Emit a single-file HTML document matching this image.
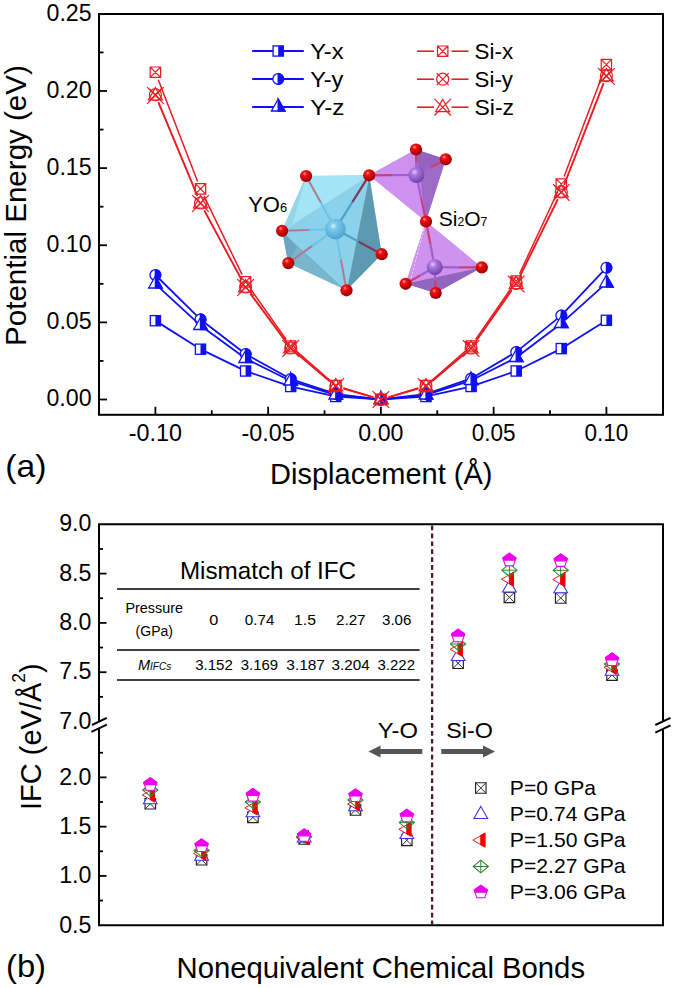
<!DOCTYPE html>
<html><head><meta charset="utf-8"><style>html,body{margin:0;padding:0;background:#fff;width:675px;height:988px;overflow:hidden}svg{display:block}text{font-family:"Liberation Sans",sans-serif}</style></head>
<body><svg width="675" height="988" viewBox="0 0 675 988"><defs><radialGradient id="gO" cx="0.38" cy="0.32" r="0.7"><stop offset="0" stop-color="#ff9a9a"/><stop offset="0.25" stop-color="#f01010"/><stop offset="0.8" stop-color="#b00000"/><stop offset="1" stop-color="#8a0000"/></radialGradient><radialGradient id="gY" cx="0.4" cy="0.35" r="0.7"><stop offset="0" stop-color="#d8f6ff"/><stop offset="0.22" stop-color="#7cccef"/><stop offset="1" stop-color="#4a9fcc"/></radialGradient><radialGradient id="gSi" cx="0.38" cy="0.32" r="0.7"><stop offset="0" stop-color="#e6c8ff"/><stop offset="0.3" stop-color="#a878e0"/><stop offset="1" stop-color="#7040a8"/></radialGradient></defs><rect width="675" height="988" fill="#fff"/><path d="M306.1,176.0L369.2,175.3L381.7,254.2L346.5,290.3L288.3,263.1L282.1,230.8Z" fill="#8bd1ec" fill-opacity="1" stroke="none" stroke-width="0" stroke-linejoin="round"/><path d="M306.1,176.0L369.2,175.3L282.1,230.8Z" fill="#a3e4f6" fill-opacity="1" stroke="none" stroke-width="0" stroke-linejoin="round"/><path d="M306.1,176.0L282.1,230.8L292.0,226.0Z" fill="#92d2e6" fill-opacity="0.8" stroke="none" stroke-width="0" stroke-linejoin="round"/><path d="M282.1,230.8L288.3,263.1L346.5,290.3Z" fill="#79b6ce" fill-opacity="1" stroke="none" stroke-width="0" stroke-linejoin="round"/><path d="M282.1,230.8L288.3,263.1L297.0,247.0Z" fill="#68a6bf" fill-opacity="0.9" stroke="none" stroke-width="0" stroke-linejoin="round"/><path d="M369.2,175.3L381.7,254.2L346.5,290.3Z" fill="#5d99b0" fill-opacity="1" stroke="none" stroke-width="0" stroke-linejoin="round"/><path d="M369.2,175.3L282.1,230.8M282.1,230.8L346.5,290.3M369.2,175.3L346.5,290.3" stroke="#b8ecfa" stroke-width="0.7" fill="none" opacity="0.6"/><line x1="335.4" y1="229" x2="320.8" y2="202.5" stroke="#6cc2ea" stroke-width="2.0"/><line x1="320.8" y1="202.5" x2="306.1" y2="176" stroke="#b07a8e" stroke-width="2.0"/><line x1="335.4" y1="229" x2="308.8" y2="229.9" stroke="#6cc2ea" stroke-width="2.0"/><line x1="308.8" y1="229.9" x2="282.1" y2="230.8" stroke="#b07a8e" stroke-width="2.0"/><line x1="335.4" y1="229" x2="311.9" y2="246.1" stroke="#6cc2ea" stroke-width="2.0"/><line x1="311.9" y1="246.1" x2="288.3" y2="263.1" stroke="#b07a8e" stroke-width="2.0"/><line x1="335.4" y1="229" x2="340.9" y2="259.6" stroke="#6cc2ea" stroke-width="2.0"/><line x1="340.9" y1="259.6" x2="346.5" y2="290.3" stroke="#b07a8e" stroke-width="2.0"/><line x1="335.4" y1="229" x2="352.3" y2="202.2" stroke="#4aa0c8" stroke-width="2.2"/><line x1="352.3" y1="202.2" x2="369.2" y2="175.3" stroke="#7c3a58" stroke-width="2.2"/><line x1="335.4" y1="229" x2="358.5" y2="241.6" stroke="#4aa0c8" stroke-width="2.2"/><line x1="358.5" y1="241.6" x2="381.7" y2="254.2" stroke="#7c3a58" stroke-width="2.2"/><circle cx="335.4" cy="229" r="10.3" fill="url(#gY)"/><path d="M369.2,175.3L416.0,149.5L445.7,159.3L426.0,221.5Z" fill="#b27fdc" fill-opacity="1" stroke="none" stroke-width="0" stroke-linejoin="round"/><path d="M369.2,175.3L416.0,149.5L426.0,221.5Z" fill="#d293f3" fill-opacity="0.9" stroke="none" stroke-width="0" stroke-linejoin="round"/><path d="M416.0,149.5L445.7,159.3L426.0,221.5Z" fill="#9a66c4" fill-opacity="0.85" stroke="none" stroke-width="0" stroke-linejoin="round"/><path d="M416.0,149.5L445.7,159.3L416.4,175.0Z" fill="#8a5cb4" fill-opacity="0.5" stroke="none" stroke-width="0" stroke-linejoin="round"/><path d="M426.0,221.5L481.8,267.4L435.7,293.0L405.6,283.8Z" fill="#b07cd8" fill-opacity="1" stroke="none" stroke-width="0" stroke-linejoin="round"/><path d="M426.0,221.5L481.8,267.4L405.6,283.8Z" fill="#d396f2" fill-opacity="0.9" stroke="none" stroke-width="0" stroke-linejoin="round"/><path d="M405.6,283.8L481.8,267.4L435.7,293.0Z" fill="#8e62ba" fill-opacity="0.85" stroke="none" stroke-width="0" stroke-linejoin="round"/><path d="M426,221.5L410.6,279.8" stroke="#f0d8ff" stroke-width="0.9" stroke-dasharray="2,2" fill="none"/><line x1="416.4" y1="175" x2="392.8" y2="175.2" stroke="#a060d0" stroke-width="2.2"/><line x1="392.8" y1="175.2" x2="369.2" y2="175.3" stroke="#c8407a" stroke-width="2.2"/><line x1="416.4" y1="175" x2="416.2" y2="162.2" stroke="#a060d0" stroke-width="2.2"/><line x1="416.2" y1="162.2" x2="416" y2="149.5" stroke="#c8407a" stroke-width="2.2"/><line x1="416.4" y1="175" x2="431.0" y2="167.2" stroke="#a060d0" stroke-width="2.2"/><line x1="431.0" y1="167.2" x2="445.7" y2="159.3" stroke="#c8407a" stroke-width="2.2"/><line x1="416.4" y1="175" x2="421.2" y2="198.2" stroke="#a060d0" stroke-width="2.2"/><line x1="421.2" y1="198.2" x2="426" y2="221.5" stroke="#c8407a" stroke-width="2.2"/><line x1="434.7" y1="267.2" x2="430.4" y2="244.3" stroke="#a060d0" stroke-width="2.2"/><line x1="430.4" y1="244.3" x2="426" y2="221.5" stroke="#c8407a" stroke-width="2.2"/><line x1="434.7" y1="267.2" x2="458.2" y2="267.3" stroke="#a060d0" stroke-width="2.2"/><line x1="458.2" y1="267.3" x2="481.8" y2="267.4" stroke="#c8407a" stroke-width="2.2"/><line x1="434.7" y1="267.2" x2="420.1" y2="275.5" stroke="#a060d0" stroke-width="2.2"/><line x1="420.1" y1="275.5" x2="405.6" y2="283.8" stroke="#c8407a" stroke-width="2.2"/><line x1="434.7" y1="267.2" x2="435.2" y2="280.1" stroke="#a060d0" stroke-width="2.2"/><line x1="435.2" y1="280.1" x2="435.7" y2="293" stroke="#c8407a" stroke-width="2.2"/><circle cx="416.4" cy="175" r="8" fill="url(#gSi)"/><circle cx="434.7" cy="267.2" r="8" fill="url(#gSi)"/><circle cx="306.1" cy="176" r="6.1" fill="url(#gO)"/><circle cx="369.2" cy="175.3" r="6.1" fill="url(#gO)"/><circle cx="282.1" cy="230.8" r="6.1" fill="url(#gO)"/><circle cx="288.3" cy="263.1" r="6.1" fill="url(#gO)"/><circle cx="381.7" cy="254.2" r="6.1" fill="url(#gO)"/><circle cx="346.5" cy="290.3" r="6.1" fill="url(#gO)"/><circle cx="416" cy="149.5" r="6.1" fill="url(#gO)"/><circle cx="445.7" cy="159.3" r="6.1" fill="url(#gO)"/><circle cx="426" cy="221.5" r="6.1" fill="url(#gO)"/><circle cx="481.8" cy="267.4" r="6.1" fill="url(#gO)"/><circle cx="405.6" cy="283.8" r="6.1" fill="url(#gO)"/><circle cx="435.7" cy="293" r="6.1" fill="url(#gO)"/><text x="248.2" y="211.6" font-size="22" font-family="Liberation Sans, sans-serif">YO<tspan font-size="12.8">6</tspan></text><text x="438.8" y="225.9" font-size="21" font-family="Liberation Sans, sans-serif">Si<tspan font-size="12.2">2</tspan>O<tspan font-size="12.2">7</tspan></text><rect x="99" y="14" width="564" height="400.8" fill="none" stroke="#000" stroke-width="2"/><line x1="99" y1="399.50" x2="107" y2="399.50" stroke="#000" stroke-width="1.8"/><text x="46.46" y="406.40" font-size="23.2" font-family="Liberation Sans, sans-serif">0.00</text><line x1="99" y1="360.94" x2="103.5" y2="360.94" stroke="#000" stroke-width="1.8"/><line x1="99" y1="322.38" x2="107" y2="322.38" stroke="#000" stroke-width="1.8"/><text x="46.53" y="329.27" font-size="23.2" font-family="Liberation Sans, sans-serif">0.05</text><line x1="99" y1="283.81" x2="103.5" y2="283.81" stroke="#000" stroke-width="1.8"/><line x1="99" y1="245.25" x2="107" y2="245.25" stroke="#000" stroke-width="1.8"/><text x="46.46" y="252.15" font-size="23.2" font-family="Liberation Sans, sans-serif">0.10</text><line x1="99" y1="206.69" x2="103.5" y2="206.69" stroke="#000" stroke-width="1.8"/><line x1="99" y1="168.12" x2="107" y2="168.12" stroke="#000" stroke-width="1.8"/><text x="46.53" y="175.02" font-size="23.2" font-family="Liberation Sans, sans-serif">0.15</text><line x1="99" y1="129.56" x2="103.5" y2="129.56" stroke="#000" stroke-width="1.8"/><line x1="99" y1="91.00" x2="107" y2="91.00" stroke="#000" stroke-width="1.8"/><text x="46.46" y="97.90" font-size="23.2" font-family="Liberation Sans, sans-serif">0.20</text><line x1="99" y1="52.44" x2="103.5" y2="52.44" stroke="#000" stroke-width="1.8"/><text x="46.53" y="20.77" font-size="23.2" font-family="Liberation Sans, sans-serif">0.25</text><line x1="155.40" y1="414.8" x2="155.40" y2="406.8" stroke="#000" stroke-width="1.8"/><text x="128.77" y="441.20" font-size="23.2" textLength="53.14" lengthAdjust="spacingAndGlyphs" font-family="Liberation Sans, sans-serif">-0.10</text><line x1="211.77" y1="414.8" x2="211.77" y2="410.3" stroke="#000" stroke-width="1.8"/><line x1="268.15" y1="414.8" x2="268.15" y2="406.8" stroke="#000" stroke-width="1.8"/><text x="241.52" y="441.20" font-size="23.2" textLength="53.22" lengthAdjust="spacingAndGlyphs" font-family="Liberation Sans, sans-serif">-0.05</text><line x1="324.52" y1="414.8" x2="324.52" y2="410.3" stroke="#000" stroke-width="1.8"/><line x1="380.90" y1="414.8" x2="380.90" y2="406.8" stroke="#000" stroke-width="1.8"/><text x="358.33" y="441.20" font-size="23.2" font-family="Liberation Sans, sans-serif">0.00</text><line x1="437.27" y1="414.8" x2="437.27" y2="410.3" stroke="#000" stroke-width="1.8"/><line x1="493.65" y1="414.8" x2="493.65" y2="406.8" stroke="#000" stroke-width="1.8"/><text x="471.72" y="441.20" font-size="23.2" textLength="43.94" lengthAdjust="spacingAndGlyphs" font-family="Liberation Sans, sans-serif">0.05</text><line x1="550.02" y1="414.8" x2="550.02" y2="410.3" stroke="#000" stroke-width="1.8"/><line x1="606.40" y1="414.8" x2="606.40" y2="406.8" stroke="#000" stroke-width="1.8"/><text x="584.47" y="441.20" font-size="23.2" textLength="43.86" lengthAdjust="spacingAndGlyphs" font-family="Liberation Sans, sans-serif">0.10</text><text x="270.02" y="484.30" font-size="29.5" textLength="222.48" lengthAdjust="spacingAndGlyphs" font-family="Liberation Sans, sans-serif">Displacement (Å)</text><g transform="translate(25.6,343.5) rotate(-90)"><text x="-2.42" y="0.00" font-size="30" textLength="280.75" lengthAdjust="spacingAndGlyphs" font-family="Liberation Sans, sans-serif">Potential Energy (eV)</text></g><text x="5.31" y="477.00" font-size="32" textLength="41.18" lengthAdjust="spacingAndGlyphs" font-family="Liberation Sans, sans-serif">(a)</text><path d="M159.63,323.37L196.27,346.53M205.00,351.38L241.10,368.82M250.33,372.63L285.97,384.87M295.58,387.58L330.92,395.42M340.79,396.83L375.91,399.17M385.89,399.17L421.01,396.83M430.88,395.42L466.22,387.58M475.83,384.87L511.47,372.63M520.68,368.78L556.82,350.82M565.54,345.94L602.16,322.96" fill="none" stroke="#1010f4" stroke-width="1.8"/><rect x="150.30" y="315.60" width="10.2" height="10.2" fill="#fff" stroke="#1010f4" stroke-width="1.3"/><rect x="155.40" y="315.60" width="5.1" height="10.2" fill="#1010f4"/><rect x="195.40" y="344.10" width="10.2" height="10.2" fill="#fff" stroke="#1010f4" stroke-width="1.3"/><rect x="200.50" y="344.10" width="5.1" height="10.2" fill="#1010f4"/><rect x="240.50" y="365.90" width="10.2" height="10.2" fill="#fff" stroke="#1010f4" stroke-width="1.3"/><rect x="245.60" y="365.90" width="5.1" height="10.2" fill="#1010f4"/><rect x="285.60" y="381.40" width="10.2" height="10.2" fill="#fff" stroke="#1010f4" stroke-width="1.3"/><rect x="290.70" y="381.40" width="5.1" height="10.2" fill="#1010f4"/><rect x="330.70" y="391.40" width="10.2" height="10.2" fill="#fff" stroke="#1010f4" stroke-width="1.3"/><rect x="335.80" y="391.40" width="5.1" height="10.2" fill="#1010f4"/><rect x="375.80" y="394.40" width="10.2" height="10.2" fill="#fff" stroke="#1010f4" stroke-width="1.3"/><rect x="380.90" y="394.40" width="5.1" height="10.2" fill="#1010f4"/><rect x="420.90" y="391.40" width="10.2" height="10.2" fill="#fff" stroke="#1010f4" stroke-width="1.3"/><rect x="426.00" y="391.40" width="5.1" height="10.2" fill="#1010f4"/><rect x="466.00" y="381.40" width="10.2" height="10.2" fill="#fff" stroke="#1010f4" stroke-width="1.3"/><rect x="471.10" y="381.40" width="5.1" height="10.2" fill="#1010f4"/><rect x="511.10" y="365.90" width="10.2" height="10.2" fill="#fff" stroke="#1010f4" stroke-width="1.3"/><rect x="516.20" y="365.90" width="5.1" height="10.2" fill="#1010f4"/><rect x="556.20" y="343.50" width="10.2" height="10.2" fill="#fff" stroke="#1010f4" stroke-width="1.3"/><rect x="561.30" y="343.50" width="5.1" height="10.2" fill="#1010f4"/><rect x="601.30" y="315.20" width="10.2" height="10.2" fill="#fff" stroke="#1010f4" stroke-width="1.3"/><rect x="606.40" y="315.20" width="5.1" height="10.2" fill="#1010f4"/><path d="M158.96,278.51L196.94,315.89M204.47,322.44L241.63,350.96M249.97,356.42L286.33,376.58M295.44,380.58L331.06,392.42M340.76,394.61L375.94,398.89M385.86,398.89L421.04,394.61M430.73,392.37L466.37,380.13M475.41,375.97L511.89,354.53M520.09,348.85L557.41,318.65M564.73,311.86L602.97,271.34" fill="none" stroke="#1010f4" stroke-width="1.8"/><circle cx="155.40" cy="275.00" r="5.4" fill="#fff" stroke="#1010f4" stroke-width="1.3"/><path d="M155.40,269.60A5.4,5.4 0 0 1 155.40,280.40Z" fill="#1010f4" stroke="#1010f4" stroke-width="1.3"/><circle cx="200.50" cy="319.40" r="5.4" fill="#fff" stroke="#1010f4" stroke-width="1.3"/><path d="M200.50,314.00A5.4,5.4 0 0 1 200.50,324.80Z" fill="#1010f4" stroke="#1010f4" stroke-width="1.3"/><circle cx="245.60" cy="354.00" r="5.4" fill="#fff" stroke="#1010f4" stroke-width="1.3"/><path d="M245.60,348.60A5.4,5.4 0 0 1 245.60,359.40Z" fill="#1010f4" stroke="#1010f4" stroke-width="1.3"/><circle cx="290.70" cy="379.00" r="5.4" fill="#fff" stroke="#1010f4" stroke-width="1.3"/><path d="M290.70,373.60A5.4,5.4 0 0 1 290.70,384.40Z" fill="#1010f4" stroke="#1010f4" stroke-width="1.3"/><circle cx="335.80" cy="394.00" r="5.4" fill="#fff" stroke="#1010f4" stroke-width="1.3"/><path d="M335.80,388.60A5.4,5.4 0 0 1 335.80,399.40Z" fill="#1010f4" stroke="#1010f4" stroke-width="1.3"/><circle cx="380.90" cy="399.50" r="5.4" fill="#fff" stroke="#1010f4" stroke-width="1.3"/><path d="M380.90,394.10A5.4,5.4 0 0 1 380.90,404.90Z" fill="#1010f4" stroke="#1010f4" stroke-width="1.3"/><circle cx="426.00" cy="394.00" r="5.4" fill="#fff" stroke="#1010f4" stroke-width="1.3"/><path d="M426.00,388.60A5.4,5.4 0 0 1 426.00,399.40Z" fill="#1010f4" stroke="#1010f4" stroke-width="1.3"/><circle cx="471.10" cy="378.50" r="5.4" fill="#fff" stroke="#1010f4" stroke-width="1.3"/><path d="M471.10,373.10A5.4,5.4 0 0 1 471.10,383.90Z" fill="#1010f4" stroke="#1010f4" stroke-width="1.3"/><circle cx="516.20" cy="352.00" r="5.4" fill="#fff" stroke="#1010f4" stroke-width="1.3"/><path d="M516.20,346.60A5.4,5.4 0 0 1 516.20,357.40Z" fill="#1010f4" stroke="#1010f4" stroke-width="1.3"/><circle cx="561.30" cy="315.50" r="5.4" fill="#fff" stroke="#1010f4" stroke-width="1.3"/><path d="M561.30,310.10A5.4,5.4 0 0 1 561.30,320.90Z" fill="#1010f4" stroke="#1010f4" stroke-width="1.3"/><circle cx="606.40" cy="267.70" r="5.4" fill="#fff" stroke="#1010f4" stroke-width="1.3"/><path d="M606.40,262.30A5.4,5.4 0 0 1 606.40,273.10Z" fill="#1010f4" stroke="#1010f4" stroke-width="1.3"/><path d="M159.08,287.39L196.82,322.11M204.54,328.45L241.56,355.55M250.07,360.73L286.23,378.77M295.48,382.48L331.02,393.52M340.78,395.50L375.92,399.00M385.88,399.00L421.02,395.50M430.76,393.47L466.34,382.03M475.55,378.23L511.75,359.77M520.19,354.49L557.31,326.51M565.02,320.16L602.68,286.34" fill="none" stroke="#1010f4" stroke-width="1.8"/><path d="M155.40,276.00L162.20,288.00L148.60,288.00Z" fill="#fff" stroke="#1010f4" stroke-width="1.3" stroke-linejoin="miter"/><path d="M155.40,276.00L162.20,288.00L155.40,288.00Z" fill="#1010f4" stroke="#1010f4" stroke-width="1.3"/><path d="M200.50,317.50L207.30,329.50L193.70,329.50Z" fill="#fff" stroke="#1010f4" stroke-width="1.3" stroke-linejoin="miter"/><path d="M200.50,317.50L207.30,329.50L200.50,329.50Z" fill="#1010f4" stroke="#1010f4" stroke-width="1.3"/><path d="M245.60,350.50L252.40,362.50L238.80,362.50Z" fill="#fff" stroke="#1010f4" stroke-width="1.3" stroke-linejoin="miter"/><path d="M245.60,350.50L252.40,362.50L245.60,362.50Z" fill="#1010f4" stroke="#1010f4" stroke-width="1.3"/><path d="M290.70,373.00L297.50,385.00L283.90,385.00Z" fill="#fff" stroke="#1010f4" stroke-width="1.3" stroke-linejoin="miter"/><path d="M290.70,373.00L297.50,385.00L290.70,385.00Z" fill="#1010f4" stroke="#1010f4" stroke-width="1.3"/><path d="M335.80,387.00L342.60,399.00L329.00,399.00Z" fill="#fff" stroke="#1010f4" stroke-width="1.3" stroke-linejoin="miter"/><path d="M335.80,387.00L342.60,399.00L335.80,399.00Z" fill="#1010f4" stroke="#1010f4" stroke-width="1.3"/><path d="M380.90,391.50L387.70,403.50L374.10,403.50Z" fill="#fff" stroke="#1010f4" stroke-width="1.3" stroke-linejoin="miter"/><path d="M380.90,391.50L387.70,403.50L380.90,403.50Z" fill="#1010f4" stroke="#1010f4" stroke-width="1.3"/><path d="M426.00,387.00L432.80,399.00L419.20,399.00Z" fill="#fff" stroke="#1010f4" stroke-width="1.3" stroke-linejoin="miter"/><path d="M426.00,387.00L432.80,399.00L426.00,399.00Z" fill="#1010f4" stroke="#1010f4" stroke-width="1.3"/><path d="M471.10,372.50L477.90,384.50L464.30,384.50Z" fill="#fff" stroke="#1010f4" stroke-width="1.3" stroke-linejoin="miter"/><path d="M471.10,372.50L477.90,384.50L471.10,384.50Z" fill="#1010f4" stroke="#1010f4" stroke-width="1.3"/><path d="M516.20,349.50L523.00,361.50L509.40,361.50Z" fill="#fff" stroke="#1010f4" stroke-width="1.3" stroke-linejoin="miter"/><path d="M516.20,349.50L523.00,361.50L516.20,361.50Z" fill="#1010f4" stroke="#1010f4" stroke-width="1.3"/><path d="M561.30,315.50L568.10,327.50L554.50,327.50Z" fill="#fff" stroke="#1010f4" stroke-width="1.3" stroke-linejoin="miter"/><path d="M561.30,315.50L568.10,327.50L561.30,327.50Z" fill="#1010f4" stroke="#1010f4" stroke-width="1.3"/><path d="M606.40,275.00L613.20,287.00L599.60,287.00Z" fill="#fff" stroke="#1010f4" stroke-width="1.3" stroke-linejoin="miter"/><path d="M606.40,275.00L613.20,287.00L606.40,287.00Z" fill="#1010f4" stroke="#1010f4" stroke-width="1.3"/><path d="M158.28,79.66L197.62,181.44M203.99,196.10L242.11,274.70M250.20,288.44L286.10,339.46M296.72,351.27L329.78,380.23M343.44,387.87L373.26,397.13M388.54,397.13L418.36,387.87M432.02,380.23L465.08,351.27M475.66,339.43L511.64,287.57M519.57,273.75L557.93,191.25M564.13,176.52L603.57,72.08" fill="none" stroke="#ec1c24" stroke-width="1.5"/><path d="M150.20,67.00h10.4v10.4h-10.4Z M150.20,67.00L160.60,77.40M160.60,67.00L150.20,77.40" fill="none" stroke="#ec1c24" stroke-width="1.2"/><path d="M195.30,183.70h10.4v10.4h-10.4Z M195.30,183.70L205.70,194.10M205.70,183.70L195.30,194.10" fill="none" stroke="#ec1c24" stroke-width="1.2"/><path d="M240.40,276.70h10.4v10.4h-10.4Z M240.40,276.70L250.80,287.10M250.80,276.70L240.40,287.10" fill="none" stroke="#ec1c24" stroke-width="1.2"/><path d="M285.50,340.80h10.4v10.4h-10.4Z M285.50,340.80L295.90,351.20M295.90,340.80L285.50,351.20" fill="none" stroke="#ec1c24" stroke-width="1.2"/><path d="M330.60,380.30h10.4v10.4h-10.4Z M330.60,380.30L341.00,390.70M341.00,380.30L330.60,390.70" fill="none" stroke="#ec1c24" stroke-width="1.2"/><path d="M375.70,394.30h10.4v10.4h-10.4Z M375.70,394.30L386.10,404.70M386.10,394.30L375.70,404.70" fill="none" stroke="#ec1c24" stroke-width="1.2"/><path d="M420.80,380.30h10.4v10.4h-10.4Z M420.80,380.30L431.20,390.70M431.20,380.30L420.80,390.70" fill="none" stroke="#ec1c24" stroke-width="1.2"/><path d="M465.90,340.80h10.4v10.4h-10.4Z M465.90,340.80L476.30,351.20M476.30,340.80L465.90,351.20" fill="none" stroke="#ec1c24" stroke-width="1.2"/><path d="M511.00,275.80h10.4v10.4h-10.4Z M511.00,275.80L521.40,286.20M521.40,275.80L511.00,286.20" fill="none" stroke="#ec1c24" stroke-width="1.2"/><path d="M556.10,178.80h10.4v10.4h-10.4Z M556.10,178.80L566.50,189.20M566.50,178.80L556.10,189.20" fill="none" stroke="#ec1c24" stroke-width="1.2"/><path d="M601.20,59.40h10.4v10.4h-10.4Z M601.20,59.40L611.60,69.80M611.60,59.40L601.20,69.80" fill="none" stroke="#ec1c24" stroke-width="1.2"/><path d="M158.48,102.09L197.42,195.61M204.28,210.05L241.82,279.95M250.36,293.43L285.94,341.57M296.82,353.15L329.68,380.85M343.46,388.29L373.24,397.21M388.56,397.21L418.34,388.29M432.12,380.85L464.98,353.15M475.68,341.44L511.62,290.06M519.74,276.32L557.76,199.18M564.19,184.54L603.51,83.06" fill="none" stroke="#ec1c24" stroke-width="1.5"/><circle cx="155.40" cy="94.70" r="6" fill="none" stroke="#ec1c24" stroke-width="1.2"/><path d="M149.40,88.70L161.40,100.70M161.40,88.70L149.40,100.70" stroke="#ec1c24" stroke-width="1.2"/><circle cx="200.50" cy="203.00" r="6" fill="none" stroke="#ec1c24" stroke-width="1.2"/><path d="M194.50,197.00L206.50,209.00M206.50,197.00L194.50,209.00" stroke="#ec1c24" stroke-width="1.2"/><circle cx="245.60" cy="287.00" r="6" fill="none" stroke="#ec1c24" stroke-width="1.2"/><path d="M239.60,281.00L251.60,293.00M251.60,281.00L239.60,293.00" stroke="#ec1c24" stroke-width="1.2"/><circle cx="290.70" cy="348.00" r="6" fill="none" stroke="#ec1c24" stroke-width="1.2"/><path d="M284.70,342.00L296.70,354.00M296.70,342.00L284.70,354.00" stroke="#ec1c24" stroke-width="1.2"/><circle cx="335.80" cy="386.00" r="6" fill="none" stroke="#ec1c24" stroke-width="1.2"/><path d="M329.80,380.00L341.80,392.00M341.80,380.00L329.80,392.00" stroke="#ec1c24" stroke-width="1.2"/><circle cx="380.90" cy="399.50" r="6" fill="none" stroke="#ec1c24" stroke-width="1.2"/><path d="M374.90,393.50L386.90,405.50M386.90,393.50L374.90,405.50" stroke="#ec1c24" stroke-width="1.2"/><circle cx="426.00" cy="386.00" r="6" fill="none" stroke="#ec1c24" stroke-width="1.2"/><path d="M420.00,380.00L432.00,392.00M432.00,380.00L420.00,392.00" stroke="#ec1c24" stroke-width="1.2"/><circle cx="471.10" cy="348.00" r="6" fill="none" stroke="#ec1c24" stroke-width="1.2"/><path d="M465.10,342.00L477.10,354.00M477.10,342.00L465.10,354.00" stroke="#ec1c24" stroke-width="1.2"/><circle cx="516.20" cy="283.50" r="6" fill="none" stroke="#ec1c24" stroke-width="1.2"/><path d="M510.20,277.50L522.20,289.50M522.20,277.50L510.20,289.50" stroke="#ec1c24" stroke-width="1.2"/><circle cx="561.30" cy="192.00" r="6" fill="none" stroke="#ec1c24" stroke-width="1.2"/><path d="M555.30,186.00L567.30,198.00M567.30,186.00L555.30,198.00" stroke="#ec1c24" stroke-width="1.2"/><circle cx="606.40" cy="75.60" r="6" fill="none" stroke="#ec1c24" stroke-width="1.2"/><path d="M600.40,69.60L612.40,81.60M612.40,69.60L600.40,81.60" stroke="#ec1c24" stroke-width="1.2"/><path d="M158.48,102.88L197.42,196.12M204.28,210.55L241.82,280.45M250.36,293.93L285.94,342.07M296.82,353.65L329.68,381.35M343.49,388.72L373.21,397.28M388.59,397.28L418.31,388.72M432.12,381.35L464.98,353.65M475.68,341.94L511.62,290.56M519.74,276.82L557.76,199.68M564.20,185.04L603.50,83.86" fill="none" stroke="#ec1c24" stroke-width="1.5"/><path d="M155.40,87.50L162.40,100.00L148.40,100.00Z" fill="none" stroke="#ec1c24" stroke-width="1.2"/><path d="M147.10,87.20L163.70,103.80M163.70,87.20L147.10,103.80" stroke="#ec1c24" stroke-width="1.2"/><path d="M200.50,195.50L207.50,208.00L193.50,208.00Z" fill="none" stroke="#ec1c24" stroke-width="1.2"/><path d="M192.20,195.20L208.80,211.80M208.80,195.20L192.20,211.80" stroke="#ec1c24" stroke-width="1.2"/><path d="M245.60,279.50L252.60,292.00L238.60,292.00Z" fill="none" stroke="#ec1c24" stroke-width="1.2"/><path d="M237.30,279.20L253.90,295.80M253.90,279.20L237.30,295.80" stroke="#ec1c24" stroke-width="1.2"/><path d="M290.70,340.50L297.70,353.00L283.70,353.00Z" fill="none" stroke="#ec1c24" stroke-width="1.2"/><path d="M282.40,340.20L299.00,356.80M299.00,340.20L282.40,356.80" stroke="#ec1c24" stroke-width="1.2"/><path d="M335.80,378.50L342.80,391.00L328.80,391.00Z" fill="none" stroke="#ec1c24" stroke-width="1.2"/><path d="M327.50,378.20L344.10,394.80M344.10,378.20L327.50,394.80" stroke="#ec1c24" stroke-width="1.2"/><path d="M380.90,391.50L387.90,404.00L373.90,404.00Z" fill="none" stroke="#ec1c24" stroke-width="1.2"/><path d="M372.60,391.20L389.20,407.80M389.20,391.20L372.60,407.80" stroke="#ec1c24" stroke-width="1.2"/><path d="M426.00,378.50L433.00,391.00L419.00,391.00Z" fill="none" stroke="#ec1c24" stroke-width="1.2"/><path d="M417.70,378.20L434.30,394.80M434.30,378.20L417.70,394.80" stroke="#ec1c24" stroke-width="1.2"/><path d="M471.10,340.50L478.10,353.00L464.10,353.00Z" fill="none" stroke="#ec1c24" stroke-width="1.2"/><path d="M462.80,340.20L479.40,356.80M479.40,340.20L462.80,356.80" stroke="#ec1c24" stroke-width="1.2"/><path d="M516.20,276.00L523.20,288.50L509.20,288.50Z" fill="none" stroke="#ec1c24" stroke-width="1.2"/><path d="M507.90,275.70L524.50,292.30M524.50,275.70L507.90,292.30" stroke="#ec1c24" stroke-width="1.2"/><path d="M561.30,184.50L568.30,197.00L554.30,197.00Z" fill="none" stroke="#ec1c24" stroke-width="1.2"/><path d="M553.00,184.20L569.60,200.80M569.60,184.20L553.00,200.80" stroke="#ec1c24" stroke-width="1.2"/><path d="M606.40,68.40L613.40,80.90L599.40,80.90Z" fill="none" stroke="#ec1c24" stroke-width="1.2"/><path d="M598.10,68.10L614.70,84.70M614.70,68.10L598.10,84.70" stroke="#ec1c24" stroke-width="1.2"/><line x1="252.2" y1="51" x2="303.8" y2="51" stroke="#1010f4" stroke-width="1.8"/><rect x="273.10" y="45.90" width="10.2" height="10.2" fill="#fff" stroke="#1010f4" stroke-width="1.3"/><rect x="278.20" y="45.90" width="5.1" height="10.2" fill="#1010f4"/><text x="310.18" y="58.70" font-size="22.5" textLength="33.39" lengthAdjust="spacingAndGlyphs" font-family="Liberation Sans, sans-serif">Y-x</text><line x1="252.2" y1="79" x2="303.8" y2="79" stroke="#1010f4" stroke-width="1.8"/><circle cx="278.20" cy="79.00" r="5.4" fill="#fff" stroke="#1010f4" stroke-width="1.3"/><path d="M278.20,73.60A5.4,5.4 0 0 1 278.20,84.40Z" fill="#1010f4" stroke="#1010f4" stroke-width="1.3"/><text x="310.18" y="86.70" font-size="22.5" textLength="33.17" lengthAdjust="spacingAndGlyphs" font-family="Liberation Sans, sans-serif">Y-y</text><line x1="252.2" y1="107" x2="303.8" y2="107" stroke="#1010f4" stroke-width="1.8"/><path d="M278.20,99.00L285.00,111.00L271.40,111.00Z" fill="#fff" stroke="#1010f4" stroke-width="1.3" stroke-linejoin="miter"/><path d="M278.20,99.00L285.00,111.00L278.20,111.00Z" fill="#1010f4" stroke="#1010f4" stroke-width="1.3"/><text x="310.16" y="114.70" font-size="22.5" textLength="34.36" lengthAdjust="spacingAndGlyphs" font-family="Liberation Sans, sans-serif">Y-z</text><line x1="417" y1="51.2" x2="434" y2="51.2" stroke="#ec1c24" stroke-width="1.6"/><line x1="451.5" y1="51.2" x2="468.5" y2="51.2" stroke="#ec1c24" stroke-width="1.6"/><path d="M437.50,46.00h10.4v10.4h-10.4Z M437.50,46.00L447.90,56.40M447.90,46.00L437.50,56.40" fill="none" stroke="#ec1c24" stroke-width="1.2"/><text x="474.59" y="58.90" font-size="22.5" textLength="38.56" lengthAdjust="spacingAndGlyphs" font-family="Liberation Sans, sans-serif">Si-x</text><line x1="417" y1="79.2" x2="434" y2="79.2" stroke="#ec1c24" stroke-width="1.6"/><line x1="451.5" y1="79.2" x2="468.5" y2="79.2" stroke="#ec1c24" stroke-width="1.6"/><circle cx="442.70" cy="79.20" r="6" fill="none" stroke="#ec1c24" stroke-width="1.2"/><path d="M436.70,73.20L448.70,85.20M448.70,73.20L436.70,85.20" stroke="#ec1c24" stroke-width="1.2"/><text x="474.60" y="86.90" font-size="22.5" textLength="38.35" lengthAdjust="spacingAndGlyphs" font-family="Liberation Sans, sans-serif">Si-y</text><line x1="417" y1="107.2" x2="434" y2="107.2" stroke="#ec1c24" stroke-width="1.6"/><line x1="451.5" y1="107.2" x2="468.5" y2="107.2" stroke="#ec1c24" stroke-width="1.6"/><path d="M442.70,99.20L449.70,111.70L435.70,111.70Z" fill="none" stroke="#ec1c24" stroke-width="1.2"/><path d="M434.40,98.90L451.00,115.50M451.00,98.90L434.40,115.50" stroke="#ec1c24" stroke-width="1.2"/><text x="474.57" y="114.90" font-size="22.5" textLength="39.48" lengthAdjust="spacingAndGlyphs" font-family="Liberation Sans, sans-serif">Si-z</text><path d="M99,721.4V524.3H663V721.4M99,729.1V925.2H663V729.1" fill="none" stroke="#000" stroke-width="2"/><path d="M92,725L106.8,717.8M91.4,731.8L106.8,724.6M655.3,725L670.5,717.9M655.3,732.6L670.5,725.3" stroke="#000" stroke-width="2" fill="none"/><line x1="99" y1="548.95" x2="103" y2="548.95" stroke="#000" stroke-width="1.8"/><line x1="99" y1="573.60" x2="106.5" y2="573.60" stroke="#000" stroke-width="1.8"/><line x1="99" y1="598.25" x2="103" y2="598.25" stroke="#000" stroke-width="1.8"/><line x1="99" y1="622.90" x2="106.5" y2="622.90" stroke="#000" stroke-width="1.8"/><line x1="99" y1="647.55" x2="103" y2="647.55" stroke="#000" stroke-width="1.8"/><line x1="99" y1="672.20" x2="106.5" y2="672.20" stroke="#000" stroke-width="1.8"/><line x1="99" y1="696.85" x2="103" y2="696.85" stroke="#000" stroke-width="1.8"/><text x="59.16" y="531.30" font-size="23.2" font-family="Liberation Sans, sans-serif">9.0</text><text x="59.23" y="580.60" font-size="23.2" font-family="Liberation Sans, sans-serif">8.5</text><text x="59.16" y="629.90" font-size="23.2" font-family="Liberation Sans, sans-serif">8.0</text><text x="59.23" y="679.20" font-size="23.2" font-family="Liberation Sans, sans-serif">7.5</text><text x="59.16" y="728.50" font-size="23.2" font-family="Liberation Sans, sans-serif">7.0</text><line x1="99" y1="900.56" x2="103" y2="900.56" stroke="#000" stroke-width="1.8"/><line x1="99" y1="875.93" x2="106.5" y2="875.93" stroke="#000" stroke-width="1.8"/><line x1="99" y1="851.29" x2="103" y2="851.29" stroke="#000" stroke-width="1.8"/><line x1="99" y1="826.65" x2="106.5" y2="826.65" stroke="#000" stroke-width="1.8"/><line x1="99" y1="802.01" x2="103" y2="802.01" stroke="#000" stroke-width="1.8"/><line x1="99" y1="777.38" x2="106.5" y2="777.38" stroke="#000" stroke-width="1.8"/><line x1="99" y1="752.74" x2="103" y2="752.74" stroke="#000" stroke-width="1.8"/><text x="59.16" y="784.77" font-size="23.2" font-family="Liberation Sans, sans-serif">2.0</text><text x="59.23" y="834.05" font-size="23.2" font-family="Liberation Sans, sans-serif">1.5</text><text x="59.16" y="883.33" font-size="23.2" font-family="Liberation Sans, sans-serif">1.0</text><text x="59.23" y="932.60" font-size="23.2" font-family="Liberation Sans, sans-serif">0.5</text><line x1="432.1" y1="525.6" x2="432.1" y2="924" stroke="#521630" stroke-width="2.3" stroke-dasharray="4.7,3.2"/><text transform="translate(40.8,810) rotate(-90)" font-size="29" font-family="Liberation Sans, sans-serif">IFC (eV/Å<tspan dy="-15.8" font-size="17.5">2</tspan><tspan dy="15.8">)</tspan></text><text x="176.50" y="977.90" font-size="29.5" textLength="408.55" lengthAdjust="spacingAndGlyphs" font-family="Liberation Sans, sans-serif">Nonequivalent Chemical Bonds</text><text x="5.97" y="976.60" font-size="32" textLength="40.07" lengthAdjust="spacingAndGlyphs" font-family="Liberation Sans, sans-serif">(b)</text><path d="M422.3,749L380.5,749L380.5,745.6L368.5,751.5L380.5,757.6L380.5,754L422.3,754Z" fill="#535653"/><path d="M441.3,749L483,749L483,745.6L495.1,751.5L483,757.6L483,754L441.3,754Z" fill="#535653"/><text x="377.88" y="737.90" font-size="22.3" textLength="40.06" lengthAdjust="spacingAndGlyphs" font-family="Liberation Sans, sans-serif">Y-O</text><text x="446.15" y="737.90" font-size="22.3" textLength="46.67" lengthAdjust="spacingAndGlyphs" font-family="Liberation Sans, sans-serif">Si-O</text><text x="179.92" y="579.30" font-size="24.6" textLength="176.20" lengthAdjust="spacingAndGlyphs" font-family="Liberation Sans, sans-serif">Mismatch of IFC</text><line x1="117" y1="589" x2="419.6" y2="589" stroke="#000" stroke-width="1.5"/><line x1="117" y1="649.9" x2="419.6" y2="649.9" stroke="#000" stroke-width="1.5"/><line x1="117" y1="680" x2="419.6" y2="680" stroke="#000" stroke-width="1.5"/><text x="125.42" y="613.20" font-size="13.8" textLength="57.52" lengthAdjust="spacingAndGlyphs" font-family="Liberation Sans, sans-serif">Pressure</text><text x="135.63" y="636.40" font-size="13.8" textLength="37.34" lengthAdjust="spacingAndGlyphs" font-family="Liberation Sans, sans-serif">(GPa)</text><text x="209.36" y="625.00" font-size="13.8" textLength="9.08" lengthAdjust="spacingAndGlyphs" font-family="Liberation Sans, sans-serif">0</text><text x="244.81" y="625.00" font-size="13.8" textLength="29.54" lengthAdjust="spacingAndGlyphs" font-family="Liberation Sans, sans-serif">0.74</text><text x="294.00" y="625.00" font-size="13.8" textLength="21.97" lengthAdjust="spacingAndGlyphs" font-family="Liberation Sans, sans-serif">1.5</text><text x="335.94" y="625.00" font-size="13.8" textLength="29.63" lengthAdjust="spacingAndGlyphs" font-family="Liberation Sans, sans-serif">2.27</text><text x="382.03" y="625.00" font-size="13.8" textLength="29.34" lengthAdjust="spacingAndGlyphs" font-family="Liberation Sans, sans-serif">3.06</text><text x="138" y="670" font-size="14.5" font-style="italic" font-family="Liberation Sans, sans-serif">M<tspan font-size="10">IFCs</tspan></text><text x="195.23" y="670.00" font-size="13.8" textLength="37.63" lengthAdjust="spacingAndGlyphs" font-family="Liberation Sans, sans-serif">3.152</text><text x="240.73" y="670.00" font-size="13.8" textLength="37.38" lengthAdjust="spacingAndGlyphs" font-family="Liberation Sans, sans-serif">3.169</text><text x="286.31" y="670.00" font-size="13.8" textLength="38.67" lengthAdjust="spacingAndGlyphs" font-family="Liberation Sans, sans-serif">3.187</text><text x="331.62" y="670.00" font-size="13.8" textLength="38.13" lengthAdjust="spacingAndGlyphs" font-family="Liberation Sans, sans-serif">3.204</text><text x="377.53" y="670.00" font-size="13.8" textLength="37.53" lengthAdjust="spacingAndGlyphs" font-family="Liberation Sans, sans-serif">3.222</text><path d="M145.05,798.50h10.5v10.5h-10.5Z" fill="#fff" stroke="#202020" stroke-width="1.15"/><path d="M145.05,798.50L155.55,809.00M155.55,798.50L145.05,809.00" stroke="#202020" stroke-width="0.95"/><path d="M196.35,854.50h10.5v10.5h-10.5Z" fill="#fff" stroke="#202020" stroke-width="1.15"/><path d="M196.35,854.50L206.85,865.00M206.85,854.50L196.35,865.00" stroke="#202020" stroke-width="0.95"/><path d="M247.65,812.10h10.5v10.5h-10.5Z" fill="#fff" stroke="#202020" stroke-width="1.15"/><path d="M247.65,812.10L258.15,822.60M258.15,812.10L247.65,822.60" stroke="#202020" stroke-width="0.95"/><path d="M298.95,833.75h10.5v10.5h-10.5Z" fill="#fff" stroke="#202020" stroke-width="1.15"/><path d="M298.95,833.75L309.45,844.25M309.45,833.75L298.95,844.25" stroke="#202020" stroke-width="0.95"/><path d="M350.25,804.70h10.5v10.5h-10.5Z" fill="#fff" stroke="#202020" stroke-width="1.15"/><path d="M350.25,804.70L360.75,815.20M360.75,804.70L350.25,815.20" stroke="#202020" stroke-width="0.95"/><path d="M401.55,835.10h10.5v10.5h-10.5Z" fill="#fff" stroke="#202020" stroke-width="1.15"/><path d="M401.55,835.10L412.05,845.60M412.05,835.10L401.55,845.60" stroke="#202020" stroke-width="0.95"/><path d="M452.85,658.00h10.5v10.5h-10.5Z" fill="#fff" stroke="#202020" stroke-width="1.15"/><path d="M452.85,658.00L463.35,668.50M463.35,658.00L452.85,668.50" stroke="#202020" stroke-width="0.95"/><path d="M504.15,592.10h10.5v10.5h-10.5Z" fill="#fff" stroke="#202020" stroke-width="1.15"/><path d="M504.15,592.10L514.65,602.60M514.65,592.10L504.15,602.60" stroke="#202020" stroke-width="0.95"/><path d="M555.45,592.70h10.5v10.5h-10.5Z" fill="#fff" stroke="#202020" stroke-width="1.15"/><path d="M555.45,592.70L565.95,603.20M565.95,592.70L555.45,603.20" stroke="#202020" stroke-width="0.95"/><path d="M606.75,669.80h10.5v10.5h-10.5Z" fill="#fff" stroke="#202020" stroke-width="1.15"/><path d="M606.75,669.80L617.25,680.30M617.25,669.80L606.75,680.30" stroke="#202020" stroke-width="0.95"/><path d="M150.30,791.70L157.20,803.70L143.40,803.70Z" fill="#fff" stroke="#3535f5" stroke-width="1.05"/><path d="M201.60,848.30L208.50,860.30L194.70,860.30Z" fill="#fff" stroke="#3535f5" stroke-width="1.05"/><path d="M252.90,804.70L259.80,816.70L246.00,816.70Z" fill="#fff" stroke="#3535f5" stroke-width="1.05"/><path d="M304.20,830.00L311.10,842.00L297.30,842.00Z" fill="#fff" stroke="#3535f5" stroke-width="1.05"/><path d="M355.50,798.70L362.40,810.70L348.60,810.70Z" fill="#fff" stroke="#3535f5" stroke-width="1.05"/><path d="M406.80,826.40L413.70,838.40L399.90,838.40Z" fill="#fff" stroke="#3535f5" stroke-width="1.05"/><path d="M458.10,648.50L465.00,660.50L451.20,660.50Z" fill="#fff" stroke="#3535f5" stroke-width="1.05"/><path d="M509.40,580.00L516.30,592.00L502.50,592.00Z" fill="#fff" stroke="#3535f5" stroke-width="1.05"/><path d="M560.70,580.70L567.60,592.70L553.80,592.70Z" fill="#fff" stroke="#3535f5" stroke-width="1.05"/><path d="M612.00,663.30L618.90,675.30L605.10,675.30Z" fill="#fff" stroke="#3535f5" stroke-width="1.05"/><path d="M142.30,795.00L154.40,788.20L154.40,801.80Z" fill="#fff" stroke="#f00000" stroke-width="0.9"/><path d="M150.30,790.50L154.40,788.20L154.40,801.80L150.30,799.50Z" fill="#f00000" stroke="#f00000" stroke-width="1.1"/><path d="M193.60,853.50L205.70,846.70L205.70,860.30Z" fill="#fff" stroke="#f00000" stroke-width="0.9"/><path d="M201.60,849.00L205.70,846.70L205.70,860.30L201.60,858.00Z" fill="#f00000" stroke="#f00000" stroke-width="1.1"/><path d="M244.90,807.80L257.00,801.00L257.00,814.60Z" fill="#fff" stroke="#f00000" stroke-width="0.9"/><path d="M252.90,803.30L257.00,801.00L257.00,814.60L252.90,812.30Z" fill="#f00000" stroke="#f00000" stroke-width="1.1"/><path d="M296.20,837.50L308.30,830.70L308.30,844.30Z" fill="#fff" stroke="#f00000" stroke-width="0.9"/><path d="M304.20,833.00L308.30,830.70L308.30,844.30L304.20,842.00Z" fill="#f00000" stroke="#f00000" stroke-width="1.1"/><path d="M347.50,804.00L359.60,797.20L359.60,810.80Z" fill="#fff" stroke="#f00000" stroke-width="0.9"/><path d="M355.50,799.50L359.60,797.20L359.60,810.80L355.50,808.50Z" fill="#f00000" stroke="#f00000" stroke-width="1.1"/><path d="M398.80,829.30L410.90,822.50L410.90,836.10Z" fill="#fff" stroke="#f00000" stroke-width="0.9"/><path d="M406.80,824.80L410.90,822.50L410.90,836.10L406.80,833.80Z" fill="#f00000" stroke="#f00000" stroke-width="1.1"/><path d="M450.10,649.30L462.20,642.50L462.20,656.10Z" fill="#fff" stroke="#f00000" stroke-width="0.9"/><path d="M458.10,644.80L462.20,642.50L462.20,656.10L458.10,653.80Z" fill="#f00000" stroke="#f00000" stroke-width="1.1"/><path d="M501.40,579.20L513.50,572.40L513.50,586.00Z" fill="#fff" stroke="#f00000" stroke-width="0.9"/><path d="M509.40,574.70L513.50,572.40L513.50,586.00L509.40,583.70Z" fill="#f00000" stroke="#f00000" stroke-width="1.1"/><path d="M552.70,579.50L564.80,572.70L564.80,586.30Z" fill="#fff" stroke="#f00000" stroke-width="0.9"/><path d="M560.70,575.00L564.80,572.70L564.80,586.30L560.70,584.00Z" fill="#f00000" stroke="#f00000" stroke-width="1.1"/><path d="M604.00,667.30L616.10,660.50L616.10,674.10Z" fill="#fff" stroke="#f00000" stroke-width="0.9"/><path d="M612.00,662.80L616.10,660.50L616.10,674.10L612.00,671.80Z" fill="#f00000" stroke="#f00000" stroke-width="1.1"/><path d="M150.30,783.70L157.90,790.00L150.30,796.30L142.70,790.00Z" fill="none" stroke="#2a8a2a" stroke-width="1.05"/><path d="M150.30,783.70V796.30M142.70,790.00H157.90" stroke="#2a8a2a" stroke-width="1.0"/><path d="M201.60,844.20L209.20,850.50L201.60,856.80L194.00,850.50Z" fill="none" stroke="#2a8a2a" stroke-width="1.05"/><path d="M201.60,844.20V856.80M194.00,850.50H209.20" stroke="#2a8a2a" stroke-width="1.0"/><path d="M252.90,795.70L260.50,802.00L252.90,808.30L245.30,802.00Z" fill="none" stroke="#2a8a2a" stroke-width="1.05"/><path d="M252.90,795.70V808.30M245.30,802.00H260.50" stroke="#2a8a2a" stroke-width="1.0"/><path d="M304.20,830.50L311.80,836.80L304.20,843.10L296.60,836.80Z" fill="none" stroke="#2a8a2a" stroke-width="1.05"/><path d="M304.20,830.50V843.10M296.60,836.80H311.80" stroke="#2a8a2a" stroke-width="1.0"/><path d="M355.50,793.70L363.10,800.00L355.50,806.30L347.90,800.00Z" fill="none" stroke="#2a8a2a" stroke-width="1.05"/><path d="M355.50,793.70V806.30M347.90,800.00H363.10" stroke="#2a8a2a" stroke-width="1.0"/><path d="M406.80,816.30L414.40,822.60L406.80,828.90L399.20,822.60Z" fill="none" stroke="#2a8a2a" stroke-width="1.05"/><path d="M406.80,816.30V828.90M399.20,822.60H414.40" stroke="#2a8a2a" stroke-width="1.0"/><path d="M458.10,637.70L465.70,644.00L458.10,650.30L450.50,644.00Z" fill="none" stroke="#2a8a2a" stroke-width="1.05"/><path d="M458.10,637.70V650.30M450.50,644.00H465.70" stroke="#2a8a2a" stroke-width="1.0"/><path d="M509.40,563.90L517.00,570.20L509.40,576.50L501.80,570.20Z" fill="none" stroke="#2a8a2a" stroke-width="1.05"/><path d="M509.40,563.90V576.50M501.80,570.20H517.00" stroke="#2a8a2a" stroke-width="1.0"/><path d="M560.70,564.00L568.30,570.30L560.70,576.60L553.10,570.30Z" fill="none" stroke="#2a8a2a" stroke-width="1.05"/><path d="M560.70,564.00V576.60M553.10,570.30H568.30" stroke="#2a8a2a" stroke-width="1.0"/><path d="M612.00,657.70L619.60,664.00L612.00,670.30L604.40,664.00Z" fill="none" stroke="#2a8a2a" stroke-width="1.05"/><path d="M612.00,657.70V670.30M604.40,664.00H619.60" stroke="#2a8a2a" stroke-width="1.0"/><path d="M150.30,777.70L156.86,782.47L154.36,790.18L146.24,790.18L143.74,782.47Z" fill="#fff" stroke="#f000f0" stroke-width="1.05"/><path d="M150.30,777.70L156.86,782.47L156.17,784.60L144.43,784.60L143.74,782.47Z" fill="#f000f0" stroke="#f000f0" stroke-width="1.2"/><path d="M201.60,839.00L208.16,843.77L205.66,851.48L197.54,851.48L195.04,843.77Z" fill="#fff" stroke="#f000f0" stroke-width="1.05"/><path d="M201.60,839.00L208.16,843.77L207.47,845.90L195.73,845.90L195.04,843.77Z" fill="#f000f0" stroke="#f000f0" stroke-width="1.2"/><path d="M252.90,788.50L259.46,793.27L256.96,800.98L248.84,800.98L246.34,793.27Z" fill="#fff" stroke="#f000f0" stroke-width="1.05"/><path d="M252.90,788.50L259.46,793.27L258.77,795.40L247.03,795.40L246.34,793.27Z" fill="#f000f0" stroke="#f000f0" stroke-width="1.2"/><path d="M304.20,828.90L310.76,833.67L308.26,841.38L300.14,841.38L297.64,833.67Z" fill="#fff" stroke="#f000f0" stroke-width="1.05"/><path d="M304.20,828.90L310.76,833.67L310.07,835.80L298.33,835.80L297.64,833.67Z" fill="#f000f0" stroke="#f000f0" stroke-width="1.2"/><path d="M355.50,789.00L362.06,793.77L359.56,801.48L351.44,801.48L348.94,793.77Z" fill="#fff" stroke="#f000f0" stroke-width="1.05"/><path d="M355.50,789.00L362.06,793.77L361.37,795.90L349.63,795.90L348.94,793.77Z" fill="#f000f0" stroke="#f000f0" stroke-width="1.2"/><path d="M406.80,809.30L413.36,814.07L410.86,821.78L402.74,821.78L400.24,814.07Z" fill="#fff" stroke="#f000f0" stroke-width="1.05"/><path d="M406.80,809.30L413.36,814.07L412.67,816.20L400.93,816.20L400.24,814.07Z" fill="#f000f0" stroke="#f000f0" stroke-width="1.2"/><path d="M458.10,629.20L464.66,633.97L462.16,641.68L454.04,641.68L451.54,633.97Z" fill="#fff" stroke="#f000f0" stroke-width="1.05"/><path d="M458.10,629.20L464.66,633.97L463.97,636.10L452.23,636.10L451.54,633.97Z" fill="#f000f0" stroke="#f000f0" stroke-width="1.2"/><path d="M509.40,553.20L515.96,557.97L513.46,565.68L505.34,565.68L502.84,557.97Z" fill="#fff" stroke="#f000f0" stroke-width="1.05"/><path d="M509.40,553.20L515.96,557.97L515.27,560.10L503.53,560.10L502.84,557.97Z" fill="#f000f0" stroke="#f000f0" stroke-width="1.2"/><path d="M560.70,553.90L567.26,558.67L564.76,566.38L556.64,566.38L554.14,558.67Z" fill="#fff" stroke="#f000f0" stroke-width="1.05"/><path d="M560.70,553.90L567.26,558.67L566.57,560.80L554.83,560.80L554.14,558.67Z" fill="#f000f0" stroke="#f000f0" stroke-width="1.2"/><path d="M612.00,653.00L618.56,657.77L616.06,665.48L607.94,665.48L605.44,657.77Z" fill="#fff" stroke="#f000f0" stroke-width="1.05"/><path d="M612.00,653.00L618.56,657.77L617.87,659.90L606.13,659.90L605.44,657.77Z" fill="#f000f0" stroke="#f000f0" stroke-width="1.2"/><path d="M475.55,782.75h10.5v10.5h-10.5Z" fill="#fff" stroke="#202020" stroke-width="1.15"/><path d="M475.55,782.75L486.05,793.25M486.05,782.75L475.55,793.25" stroke="#202020" stroke-width="0.95"/><text x="509.87" y="795.20" font-size="21" textLength="86.03" lengthAdjust="spacingAndGlyphs" font-family="Liberation Sans, sans-serif">P=0 GPa</text><path d="M480.80,806.40L487.70,818.40L473.90,818.40Z" fill="#fff" stroke="#3535f5" stroke-width="1.05"/><text x="509.87" y="821.20" font-size="21" textLength="115.63" lengthAdjust="spacingAndGlyphs" font-family="Liberation Sans, sans-serif">P=0.74 GPa</text><path d="M472.80,840.10L484.90,833.30L484.90,846.90Z" fill="#fff" stroke="#f00000" stroke-width="0.9"/><path d="M480.80,835.60L484.90,833.30L484.90,846.90L480.80,844.60Z" fill="#f00000" stroke="#f00000" stroke-width="1.1"/><text x="509.87" y="847.20" font-size="21" textLength="115.63" lengthAdjust="spacingAndGlyphs" font-family="Liberation Sans, sans-serif">P=1.50 GPa</text><path d="M480.80,860.20L488.40,866.50L480.80,872.80L473.20,866.50Z" fill="none" stroke="#2a8a2a" stroke-width="1.05"/><path d="M480.80,860.20V872.80M473.20,866.50H488.40" stroke="#2a8a2a" stroke-width="1.0"/><text x="509.87" y="872.90" font-size="21" textLength="115.63" lengthAdjust="spacingAndGlyphs" font-family="Liberation Sans, sans-serif">P=2.27 GPa</text><path d="M480.80,885.30L487.36,890.07L484.86,897.78L476.74,897.78L474.24,890.07Z" fill="#fff" stroke="#f000f0" stroke-width="1.05"/><path d="M480.80,885.30L487.36,890.07L486.67,892.20L474.93,892.20L474.24,890.07Z" fill="#f000f0" stroke="#f000f0" stroke-width="1.2"/><text x="509.87" y="898.60" font-size="21" textLength="115.63" lengthAdjust="spacingAndGlyphs" font-family="Liberation Sans, sans-serif">P=3.06 GPa</text></svg></body></html>
